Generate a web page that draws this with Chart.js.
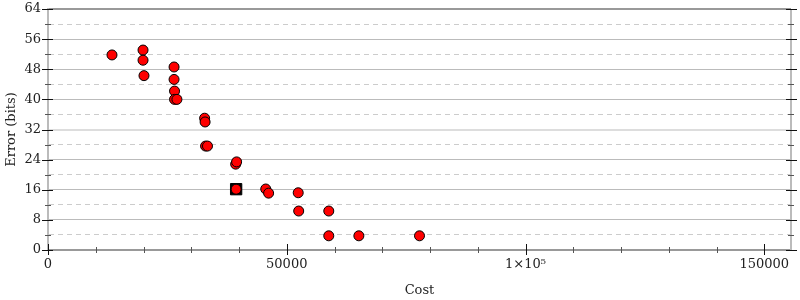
<!DOCTYPE html>
<html>
<head>
<meta charset="utf-8">
<script src="https://cdn.jsdelivr.net/npm/chart.js@4/dist/chart.umd.min.js"></script>
<style>
  html, body { margin: 0; padding: 0; background: #fff; }
  #wrap { width: 800px; height: 300px; }
</style>
</head>
<body>
<div id="wrap"><canvas id="c" width="800" height="300"></canvas></div>
<script>
// Data
const costs  = [13400, 19900, 19900, 20100, 26400, 26400, 26500, 26500, 27000,
                32800, 32900, 33000, 33400, 39300, 39500, 39400, 45600, 46200,
                52400, 52500, 58800, 58800, 65100, 77800];
const errors = [51.8, 53.1, 50.4, 46.3, 48.6, 45.3, 42.2, 40.0, 40.0,
                35.0, 34.0, 27.6, 27.6, 22.8, 23.4, 16.15, 16.2, 15.1,
                15.2, 10.35, 10.35, 3.77, 3.77, 3.77];
const bestCost  = [39400];
const bestError = [16.15];
const xTickValues = [0, 50000, 100000, 150000];
const xTickLabels = ['0', '50000', '1×10⁵', '150000'];
const yTickValues = [0, 8, 16, 24, 32, 40, 48, 56, 64];

const pts = costs.map((c, i) => ({ x: c, y: errors[i] }));
const best = bestCost.map((c, i) => ({ x: c, y: bestError[i] }));

const FONT = 'DejaVu Serif';

const tickPlugin = {
  id: 'ticks',
  afterDraw(chart) {
    const ctx = chart.ctx;
    const xs = chart.scales.x, ys = chart.scales.y;
    const ca = chart.chartArea;
    ctx.save();
    // right border
    ctx.strokeStyle = '#bbb';
    ctx.lineWidth = 2;
    ctx.beginPath();
    ctx.moveTo(ca.right, ca.top);
    ctx.lineTo(ca.right, ca.bottom);
    ctx.stroke();
    ctx.lineWidth = 1;
    // y ticks (left and right)
    for (let v = 0; v <= 64; v += 4) {
      const p = Math.round(ys.getPixelForValue(v)) + 0.5;
      const major = v % 8 === 0;
      ctx.strokeStyle = major ? '#111' : '#555';
      ctx.beginPath();
      if (major) {
        ctx.moveTo(ca.left - 6, p); ctx.lineTo(ca.left + 5, p);
        ctx.moveTo(ca.right - 5, p); ctx.lineTo(ca.right + 6, p);
      } else {
        ctx.moveTo(ca.left - 3, p); ctx.lineTo(ca.left + 3, p);
        ctx.moveTo(ca.right - 3, p); ctx.lineTo(ca.right + 3, p);
      }
      ctx.stroke();
    }
    // x ticks
    for (let v = 0; v <= 150000; v += 10000) {
      const p = Math.round(xs.getPixelForValue(v)) + 0.5;
      const major = v % 50000 === 0;
      ctx.strokeStyle = major ? '#111' : '#555';
      ctx.beginPath();
      if (major) { ctx.moveTo(p, ca.bottom - 6); ctx.lineTo(p, ca.bottom + 5); }
      else { ctx.moveTo(p, ca.bottom - 3); ctx.lineTo(p, ca.bottom + 3); }
      ctx.stroke();
    }
    ctx.restore();
  }
};

new Chart(document.getElementById('c'), {
  type: 'scatter',
  data: {
    datasets: [
      {
        data: pts,
        backgroundColor: '#ff0000',
        borderColor: '#000',
        borderWidth: 1,
        pointRadius: 5,
        pointHoverRadius: 5
      },
      {
        data: best,
        pointStyle: 'rect',
        backgroundColor: '#000',
        borderColor: '#000',
        borderWidth: 1,
        pointRadius: 8,
        pointHoverRadius: 8
      }
    ]
  },
  options: {
    responsive: false,
    animation: false,
    events: [],
    layout: { padding: { top: 0, right: 6, left: 0, bottom: 0 } },
    plugins: { legend: { display: false }, tooltip: { enabled: false } },
    scales: {
      x: {
        type: 'linear',
        min: 0,
        max: 155600,
        afterFit(s) { s.height = 50; },
        afterBuildTicks(s) { s.ticks = xTickValues.map(v => ({ value: v })); },
        grid: { display: false, drawTicks: false },
        border: { display: true, color: '#999', width: 2 },
        ticks: {
          autoSkip: false,
          maxRotation: 0,
          padding: 7,
          color: '#222',
          font: { family: FONT, size: 13 },
          callback: (v) => {
            const i = xTickValues.indexOf(v);
            return i >= 0 ? xTickLabels[i] : '';
          }
        },
        title: {
          display: true,
          text: 'Cost',
          color: '#222',
          font: { family: FONT, size: 13 },
          padding: { top: 0, bottom: 2 }
        }
      },
      y: {
        type: 'linear',
        min: 0,
        max: 64,
        afterFit(s) { s.width = 48; s.paddingTop = 7; s.paddingBottom = 0; },
        grid: {
          drawTicks: false,
          color: (c) => {
            const v = c.tick ? c.tick.value : 0;
            if (v === 64) return '#999';
            if (v === 32) return '#ddd';
            return v % 8 === 0 ? '#bbb' : '#ccc';
          },
          lineWidth: (c) => {
            const v = c.tick ? c.tick.value : 0;
            return (v === 64 || v === 32) ? 2 : 1;
          }
        },
        border: {
          display: true,
          color: '#bbb',
          width: 2,
          dash: (c) => {
            if (!c.tick) return [];
            return c.tick.value % 8 === 0 ? [] : [5, 4];
          }
        },
        ticks: {
          stepSize: 4,
          autoSkip: false,
          padding: 7,
          color: '#222',
          font: { family: FONT, size: 13 },
          callback: (v) => (yTickValues.includes(v) ? String(v) : '')
        },
        title: {
          display: true,
          text: 'Error (bits)',
          color: '#222',
          font: { family: FONT, size: 13 },
          padding: { top: 4, bottom: 0 }
        }
      }
    }
  },
  plugins: [tickPlugin]
});
</script>
</body>
</html>
